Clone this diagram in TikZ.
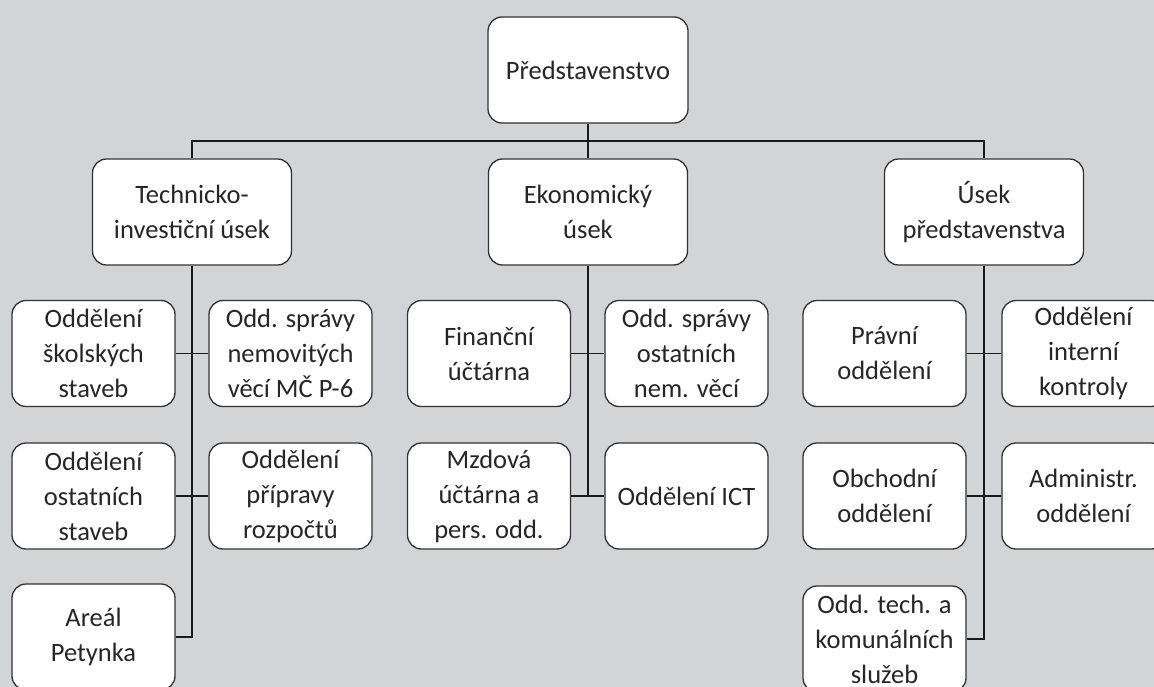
\documentclass[tikz,border=0pt]{standalone}
\usepackage{fontspec}
\setmainfont{Carlito}
\definecolor{bg}{RGB}{211,212,214}
\definecolor{boxc}{RGB}{50,50,50}
\definecolor{linec}{RGB}{25,25,25}
\tikzset{
  box/.style={draw=boxc, line width=1.3pt, rounded corners=14pt, fill=white, align=center,
    font=\fontsize{26.5}{35}\selectfont, inner sep=0pt, text=black!85},
  leaf/.style={box, minimum width=163pt, minimum height=106pt},
  head/.style={box, minimum width=199pt, minimum height=106pt},
  conn/.style={draw=linec, line width=1.5pt}
}
\begin{document}
\begin{tikzpicture}[x=1pt,y=-1pt]
\useasboundingbox (0,0) rectangle (1154,687);
\clip (0,0) rectangle (1154,687);
\fill[bg] (0,0) rectangle (1154,687);
% top
\node[head, minimum width=200pt] (top) at (588,70) {Představenstvo};
\node[head] (tech) at (192,212) {Technicko-\\investiční úsek};
\node[head] (eko) at (588,212) {Ekonomický\\úsek};
\node[head] (usek) at (984,212) {Úsek\\představenstva};
% left group
\node[leaf] (l1) at (93.5,353.5) {Oddělení\\školských\\staveb};
\node[leaf] (r1) at (290.5,353.5) {Odd. správy\\nemovitých\\věcí MČ P-6};
\node[leaf] (l2) at (93.5,496) {Oddělení\\ostatních\\staveb};
\node[leaf] (r2) at (290.5,496) {Oddělení\\přípravy\\rozpočtů};
\node[leaf] (areal) at (93.5,637) {Areál\\Petynka};
% middle group
\node[leaf] (f) at (489,353.5) {Finanční\\účtárna};
\node[leaf] (o) at (686.5,353.5) {Odd. správy\\ostatních\\nem. věcí};
\node[leaf] (m) at (489,496) {Mzdová\\účtárna a\\pers. odd.};
\node[leaf] (ict) at (686.5,496) {Oddělení ICT};
% right group
\node[leaf] (pr) at (884.5,353.5) {Právní\\oddělení};
\node[leaf] (ik) at (1083.5,353.5) {Oddělení\\interní\\kontroly};
\node[leaf] (ob) at (884.5,496) {Obchodní\\oddělení};
\node[leaf] (ad) at (1083.5,496) {Administr.\\oddělení};
\node[leaf] (tk) at (884.5,639) {Odd. tech. a\\komunálních\\služeb};
% connectors
\coordinate (bus) at (588,141);
\draw[conn] (top.south) -- (bus);
\draw[conn] (tech.north) |- (bus) -| (usek.north);
\draw[conn] (bus) -- (eko.north);
\draw[conn] (tech.south) |- (areal.east);
\draw[conn] (l1.east) -- (r1.west);
\draw[conn] (l2.east) -- (r2.west);
\draw[conn] (eko.south) -- (eko.south |- m.east);
\draw[conn] (f.east) -- (o.west);
\draw[conn] (m.east) -- (ict.west);
\draw[conn] (usek.south) |- (tk.east);
\draw[conn] (pr.east) -- (ik.west);
\draw[conn] (ob.east) -- (ad.west);
\end{tikzpicture}
\end{document}
